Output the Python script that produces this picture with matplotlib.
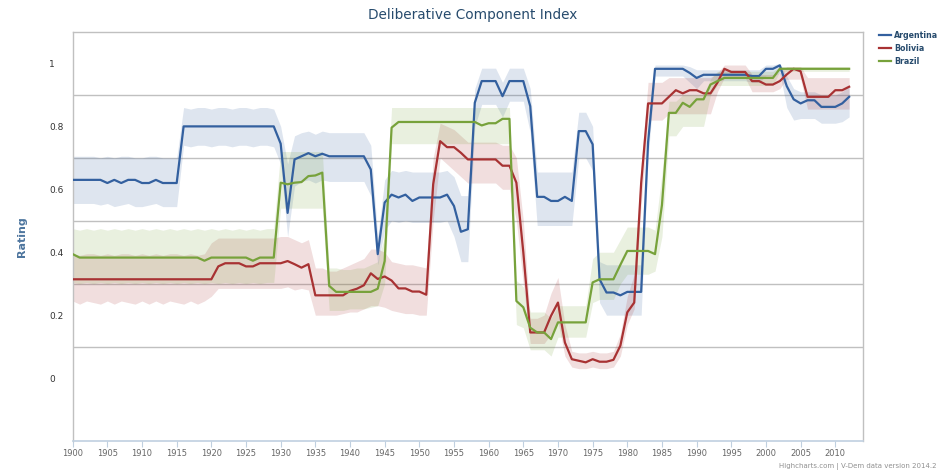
import matplotlib
matplotlib.use("Agg")
import matplotlib.pyplot as plt
import numpy as np

years = list(range(1900, 2013))

argentina = [
    0.63, 0.63, 0.63, 0.63, 0.63,
    0.62, 0.63, 0.62, 0.63, 0.63,
    0.62, 0.62, 0.63, 0.62, 0.62,
    0.62, 0.80, 0.80, 0.80, 0.80,
    0.80, 0.80, 0.80, 0.80, 0.80,
    0.80, 0.80, 0.80, 0.80, 0.80,
    0.745, 0.525, 0.695, 0.705, 0.715,
    0.705, 0.713, 0.705, 0.705, 0.705,
    0.705, 0.705, 0.705, 0.663, 0.394,
    0.558, 0.583, 0.574, 0.583, 0.563,
    0.574, 0.574, 0.574, 0.574, 0.583,
    0.547, 0.465, 0.473, 0.875, 0.944,
    0.944, 0.944, 0.896, 0.944, 0.944,
    0.944, 0.864, 0.576, 0.576, 0.563,
    0.563, 0.576, 0.563, 0.785, 0.785,
    0.743, 0.314, 0.272, 0.272, 0.263,
    0.274, 0.274, 0.274, 0.75, 0.983,
    0.983, 0.983, 0.983, 0.983, 0.970,
    0.954, 0.964, 0.964, 0.964, 0.964,
    0.964, 0.964, 0.964, 0.96, 0.96,
    0.983, 0.983, 0.994, 0.928, 0.886,
    0.873, 0.883, 0.883, 0.862, 0.862,
    0.862, 0.873, 0.894]
argentina_hi = [
    0.705, 0.705, 0.705, 0.705, 0.70,
    0.705, 0.70, 0.705, 0.705, 0.70,
    0.70, 0.705, 0.705, 0.70, 0.70,
    0.70, 0.86, 0.855, 0.86, 0.86,
    0.855, 0.86, 0.86, 0.855, 0.86,
    0.86, 0.855, 0.86, 0.86, 0.855,
    0.80, 0.68, 0.77, 0.78, 0.785,
    0.775, 0.785, 0.78, 0.78, 0.78,
    0.78, 0.78, 0.78, 0.74, 0.45,
    0.63, 0.66, 0.655, 0.66, 0.655,
    0.655, 0.655, 0.655, 0.655, 0.66,
    0.64, 0.58, 0.58, 0.92, 0.985,
    0.985, 0.985, 0.94, 0.985, 0.985,
    0.985, 0.92, 0.655, 0.655, 0.655,
    0.655, 0.655, 0.655, 0.845, 0.845,
    0.80, 0.37, 0.36, 0.36, 0.36,
    0.36, 0.36, 0.36, 0.80, 0.995,
    0.995, 0.995, 0.995, 0.995, 0.99,
    0.98, 0.98, 0.98, 0.98, 0.98,
    0.98, 0.98, 0.98, 0.98, 0.98,
    0.995, 0.995, 1.0, 0.96, 0.92,
    0.91, 0.91, 0.91, 0.90, 0.90,
    0.90, 0.91, 0.93]
argentina_lo = [
    0.555, 0.555, 0.555, 0.555, 0.55,
    0.555, 0.545, 0.55, 0.555, 0.545,
    0.545, 0.55, 0.555, 0.545, 0.545,
    0.545, 0.74, 0.735, 0.74, 0.74,
    0.735, 0.74, 0.74, 0.735, 0.74,
    0.74, 0.735, 0.74, 0.74, 0.735,
    0.68, 0.45, 0.61, 0.625, 0.63,
    0.62, 0.63, 0.625, 0.625, 0.625,
    0.625, 0.625, 0.625, 0.58, 0.36,
    0.47, 0.50, 0.495, 0.50, 0.495,
    0.495, 0.495, 0.495, 0.495, 0.50,
    0.45, 0.37, 0.37, 0.80, 0.87,
    0.87, 0.87, 0.83, 0.88, 0.88,
    0.88, 0.78, 0.485, 0.485, 0.485,
    0.485, 0.485, 0.485, 0.70, 0.70,
    0.66, 0.24, 0.20, 0.20, 0.20,
    0.20, 0.20, 0.20, 0.70, 0.96,
    0.96, 0.96, 0.96, 0.96, 0.94,
    0.92, 0.945, 0.945, 0.945, 0.945,
    0.945, 0.945, 0.945, 0.94, 0.94,
    0.96, 0.96, 0.97, 0.86, 0.82,
    0.825, 0.825, 0.825, 0.81, 0.81,
    0.81, 0.815, 0.83]

bolivia = [
    0.314, 0.314, 0.314, 0.314, 0.314,
    0.314, 0.314, 0.314, 0.314, 0.314,
    0.314, 0.314, 0.314, 0.314, 0.314,
    0.314, 0.314, 0.314, 0.314, 0.314,
    0.314, 0.355, 0.365, 0.365, 0.365,
    0.355, 0.355, 0.365, 0.365, 0.365,
    0.365, 0.372, 0.362, 0.351, 0.362,
    0.263, 0.263, 0.263, 0.263, 0.263,
    0.277, 0.284, 0.295, 0.333, 0.315,
    0.323, 0.310, 0.285, 0.285, 0.275,
    0.275, 0.265, 0.616, 0.753, 0.734,
    0.734, 0.716, 0.695, 0.695, 0.695,
    0.695, 0.695, 0.675, 0.675, 0.621,
    0.40, 0.145, 0.145, 0.145, 0.198,
    0.240, 0.113, 0.060, 0.055, 0.050,
    0.060, 0.052, 0.052, 0.058, 0.103,
    0.209, 0.240, 0.62, 0.873, 0.873,
    0.873, 0.894, 0.915, 0.905, 0.915,
    0.915, 0.905, 0.905, 0.939, 0.983,
    0.973, 0.973, 0.973, 0.944, 0.944,
    0.933, 0.933, 0.944, 0.965, 0.983,
    0.975, 0.894, 0.894, 0.894, 0.894,
    0.915, 0.915, 0.926]
bolivia_hi = [
    0.395, 0.39, 0.395, 0.395, 0.39,
    0.395, 0.39, 0.395, 0.395, 0.39,
    0.395, 0.39, 0.395, 0.39, 0.395,
    0.395, 0.39, 0.395, 0.39, 0.395,
    0.43, 0.445, 0.445, 0.445, 0.445,
    0.445, 0.445, 0.445, 0.445, 0.445,
    0.45, 0.45, 0.44, 0.43, 0.44,
    0.35, 0.35, 0.34, 0.34, 0.35,
    0.36, 0.37, 0.38, 0.41, 0.41,
    0.40, 0.37, 0.365, 0.36, 0.36,
    0.355, 0.35, 0.70, 0.81, 0.80,
    0.79, 0.77, 0.75, 0.75, 0.75,
    0.75, 0.75, 0.74, 0.74, 0.70,
    0.50, 0.19, 0.19, 0.20, 0.27,
    0.32, 0.17, 0.085, 0.08, 0.08,
    0.085, 0.08, 0.08, 0.085, 0.14,
    0.26, 0.33, 0.68, 0.94, 0.94,
    0.94, 0.955, 0.955, 0.955, 0.955,
    0.955, 0.955, 0.955, 0.97, 0.995,
    0.995, 0.995, 0.995, 0.965, 0.965,
    0.965, 0.965, 0.97, 0.99, 0.99,
    0.99, 0.955, 0.955, 0.955, 0.955,
    0.955, 0.955, 0.955]
bolivia_lo = [
    0.245, 0.235, 0.245, 0.24, 0.235,
    0.245, 0.235, 0.245, 0.24, 0.235,
    0.245, 0.235, 0.245, 0.235, 0.245,
    0.24, 0.235, 0.245, 0.235, 0.245,
    0.26, 0.285, 0.285, 0.285, 0.285,
    0.285, 0.285, 0.285, 0.285, 0.285,
    0.285, 0.29, 0.28, 0.285, 0.28,
    0.20, 0.20, 0.20, 0.20, 0.205,
    0.21, 0.21, 0.22, 0.23, 0.23,
    0.225, 0.215, 0.21, 0.205, 0.205,
    0.20, 0.20, 0.50, 0.70, 0.68,
    0.66, 0.64, 0.62, 0.62, 0.62,
    0.62, 0.62, 0.60, 0.60, 0.50,
    0.30, 0.11, 0.11, 0.11, 0.14,
    0.18, 0.07, 0.035, 0.03, 0.03,
    0.035, 0.03, 0.03, 0.035, 0.07,
    0.17, 0.22, 0.55, 0.82, 0.82,
    0.82, 0.84, 0.84, 0.84, 0.84,
    0.84, 0.84, 0.84, 0.91, 0.955,
    0.955, 0.955, 0.955, 0.91, 0.91,
    0.91, 0.91, 0.92, 0.95, 0.95,
    0.95, 0.855, 0.855, 0.855, 0.855,
    0.855, 0.855, 0.855]

brazil = [
    0.394, 0.383, 0.383, 0.383, 0.383,
    0.383, 0.383, 0.383, 0.383, 0.383,
    0.383, 0.383, 0.383, 0.383, 0.383,
    0.383, 0.383, 0.383, 0.383, 0.373,
    0.383, 0.383, 0.383, 0.383, 0.383,
    0.383, 0.373, 0.383, 0.383, 0.383,
    0.621, 0.616, 0.621, 0.623, 0.642,
    0.644, 0.653, 0.293, 0.274, 0.274,
    0.274, 0.274, 0.274, 0.274, 0.284,
    0.372, 0.796, 0.814, 0.814, 0.814,
    0.814, 0.814, 0.814, 0.814, 0.814,
    0.814, 0.814, 0.814, 0.814, 0.803,
    0.81, 0.81, 0.824, 0.824, 0.245,
    0.225, 0.16, 0.145, 0.145, 0.124,
    0.177, 0.177, 0.177, 0.177, 0.177,
    0.304, 0.314, 0.314, 0.314, 0.36,
    0.404, 0.404, 0.404, 0.404, 0.394,
    0.55, 0.843, 0.843, 0.875, 0.862,
    0.886, 0.886, 0.933, 0.944, 0.954,
    0.954, 0.954, 0.954, 0.954, 0.954,
    0.954, 0.954, 0.983, 0.983, 0.983,
    0.983, 0.983, 0.983, 0.983, 0.983,
    0.983, 0.983, 0.983]
brazil_hi = [
    0.475, 0.47, 0.475, 0.47, 0.475,
    0.47, 0.475, 0.47, 0.475, 0.47,
    0.475, 0.47, 0.475, 0.47, 0.475,
    0.47, 0.475, 0.47, 0.475, 0.47,
    0.475, 0.47, 0.475, 0.47, 0.475,
    0.47, 0.475, 0.47, 0.475, 0.475,
    0.72, 0.72, 0.72, 0.72, 0.72,
    0.72, 0.72, 0.35, 0.35, 0.345,
    0.345, 0.35, 0.35, 0.36, 0.37,
    0.45, 0.86, 0.86, 0.86, 0.86,
    0.86, 0.86, 0.86, 0.86, 0.86,
    0.86, 0.86, 0.86, 0.86, 0.86,
    0.86, 0.86, 0.86, 0.86, 0.31,
    0.29, 0.21, 0.21, 0.21, 0.19,
    0.23, 0.23, 0.23, 0.23, 0.23,
    0.38, 0.40, 0.40, 0.40, 0.44,
    0.48, 0.48, 0.48, 0.48, 0.47,
    0.65, 0.88, 0.88, 0.90, 0.90,
    0.90, 0.90, 0.95, 0.975, 0.975,
    0.975, 0.975, 0.975, 0.975, 0.975,
    0.975, 0.975, 0.99, 0.99, 0.99,
    0.99, 0.99, 0.99, 0.99, 0.99,
    0.99, 0.99, 0.99]
brazil_lo = [
    0.304, 0.30, 0.304, 0.30, 0.304,
    0.30, 0.304, 0.30, 0.304, 0.30,
    0.304, 0.30, 0.304, 0.30, 0.304,
    0.30, 0.304, 0.30, 0.304, 0.30,
    0.304, 0.30, 0.304, 0.30, 0.304,
    0.30, 0.304, 0.30, 0.304, 0.304,
    0.54, 0.54, 0.54, 0.54, 0.54,
    0.54, 0.54, 0.215, 0.215, 0.215,
    0.22, 0.22, 0.22, 0.225, 0.23,
    0.30, 0.745, 0.745, 0.745, 0.745,
    0.745, 0.745, 0.745, 0.745, 0.745,
    0.745, 0.745, 0.745, 0.745, 0.745,
    0.745, 0.745, 0.745, 0.745, 0.17,
    0.16, 0.09, 0.09, 0.09, 0.07,
    0.13, 0.13, 0.13, 0.13, 0.13,
    0.24, 0.25, 0.25, 0.25, 0.30,
    0.33, 0.33, 0.33, 0.33, 0.34,
    0.45, 0.77, 0.77, 0.80, 0.80,
    0.80, 0.80, 0.90, 0.93, 0.93,
    0.93, 0.93, 0.93, 0.93, 0.93,
    0.93, 0.93, 0.975, 0.975, 0.975,
    0.975, 0.975, 0.975, 0.975, 0.975,
    0.975, 0.975, 0.975]

series_names = ["Argentina", "Bolivia", "Brazil"]
series_colors = ["#33609f", "#a83233", "#77a23b"]
x_ticks = list(range(1900, 2011, 5))
y_ticks = [0, 0.2, 0.4, 0.6, 0.8, 1]
y_ticklabels = ["0", "0.2", "0.4", "0.6", "0.8", "1"]
grid_vals = [0.1, 0.3, 0.5, 0.7, 0.9]

fig = plt.figure(figsize=(9.46, 4.73), dpi=100)
ax = fig.add_axes([72.7 / 946, 1 - 441 / 473, (863 - 72.7) / 946, (441 - 32) / 473])
ax.set_xlim(1900, 2014)
ax.set_ylim(-0.2, 1.1)

for g in grid_vals:
    ax.axhline(g, color="#c0c0c0", lw=1.0, zorder=0)

data = [(argentina, argentina_lo, argentina_hi),
        (bolivia, bolivia_lo, bolivia_hi),
        (brazil, brazil_lo, brazil_hi)]

for (vals, lo, hi), c in zip(data, series_colors):
    ax.fill_between(years, lo, hi, color=c, alpha=0.16, lw=0, zorder=1)

handles = []
for (vals, lo, hi), c, name in zip(data, series_colors, series_names):
    h, = ax.plot(years, vals, color=c, lw=1.6, zorder=3, label=name,
                 solid_joinstyle="round")
    handles.append(h)

ax.set_xticks(x_ticks)
ax.set_xticklabels([str(t) for t in x_ticks], fontsize=6, color="#666666")
ax.set_yticks(y_ticks)
ax.set_yticklabels(y_ticklabels, fontsize=6.5, color="#333333")
ax.tick_params(axis="y", length=0, pad=17)
for lab in ax.get_yticklabels():
    lab.set_horizontalalignment("left")
ax.tick_params(axis="x", length=4, color="#c0d0e0", pad=2)

for side in ["left", "top", "right"]:
    ax.spines[side].set_color("#c0c0c0")
    ax.spines[side].set_linewidth(1.0)
ax.spines["bottom"].set_color("#c0d0e0")
ax.spines["bottom"].set_linewidth(1.2)

ax.set_ylabel("Rating", fontsize=8, color="#4d759e", fontweight="bold")
ax.yaxis.set_label_coords(-0.058, 0.5)

fig.text(0.5, 1 - 15 / 473, "Deliberative Component Index", ha="center", va="center",
         fontsize=9.8, color="#274b6d")

leg = fig.legend(handles=handles, loc="upper left", bbox_to_anchor=(876 / 946, 1 - 28 / 473),
                 frameon=False, fontsize=5.7, handlelength=1.5, handletextpad=0.4,
                 labelspacing=0.5, borderaxespad=0)
for t in leg.get_texts():
    t.set_color("#274b6d")
    t.set_fontweight("bold")

fig.text(936 / 946, 1 - 466 / 473, "Highcharts.com | V-Dem data version 2014.2",
         ha="right", va="center", fontsize=5, color="#909090")

fig.savefig("out.png", dpi=100)
